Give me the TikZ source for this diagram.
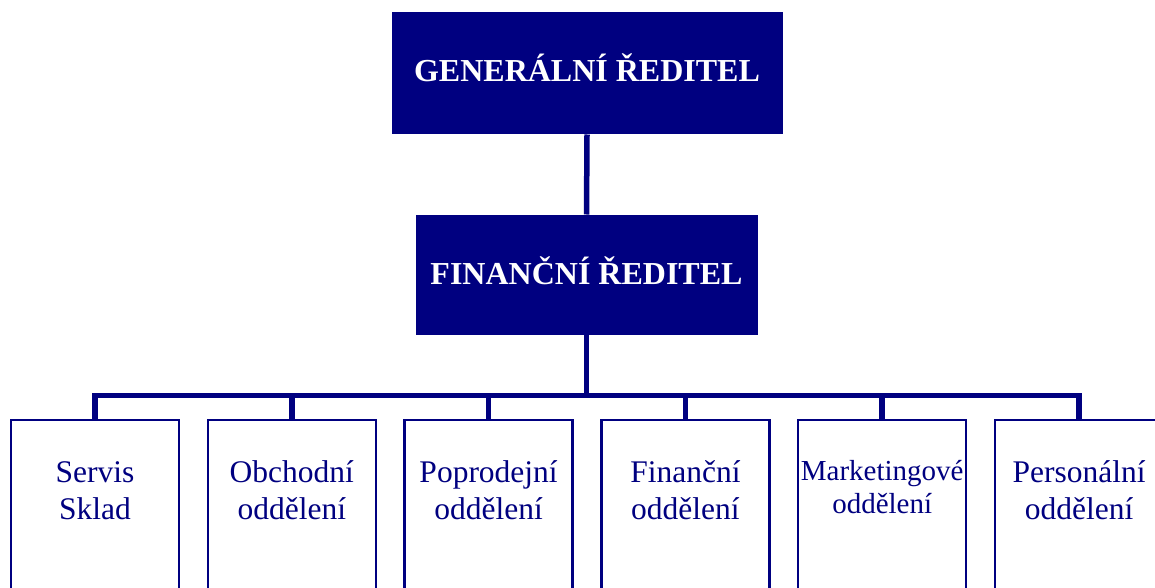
\documentclass[tikz,border=0pt]{standalone}
\usepackage{fontspec}
\setmainfont{Liberation Serif}
\definecolor{navy}{RGB}{0,0,128}
\begin{document}
\begin{tikzpicture}[x=1pt,y=-1pt,
  headbox/.style={fill=navy, draw=navy, line width=1pt, inner sep=0pt},
  headtext/.style={text=white, font=\fontsize{32}{38}\selectfont\bfseries, inner sep=0pt},
  deptbox/.style={draw=navy, line width=2.5pt, fill=white, inner sep=0pt,
    minimum width=168pt, minimum height=184pt},
  depttext/.style={text=navy, align=center, inner sep=0pt,
    font=\fontsize{31.5}{37}\selectfont},
  link/.style={draw=navy, line width=5.5pt, line join=miter}]
\useasboundingbox (0,0) rectangle (1155,588);
\clip (0,0) rectangle (1155,588);

% management boxes
\node[headbox, minimum width=390pt, minimum height=121pt] (gen) at (587,73.5) {};
\node[headtext, anchor=base] (gentext) at (587,82) {GENERÁLNÍ ŘEDITEL};
\node[headbox, minimum width=341pt, minimum height=119pt] (fin) at (586.5,274.5) {};
\node[headtext, anchor=base] (fintext) at (586.5,284) {FINANČNÍ ŘEDITEL};

% department boxes (running past the lower edge)
\node[deptbox] (d1) at (95,512) {};
\node[deptbox] (d2) at (291.8,512) {};
\node[deptbox] (d3) at (488.6,512) {};
\node[deptbox] (d4) at (685.4,512) {};
\node[deptbox] (d5) at (882.2,512) {};
\node[deptbox] (d6) at (1079,512) {};

% anchor=base sits on the last line of each label
\node[depttext, anchor=base] (t1) at (95,519) {Servis\\Sklad};
\node[depttext, anchor=base] (t2) at (291.8,519) {Obchodní\\oddělení};
\node[depttext, anchor=base] (t3) at (488.6,519) {Poprodejní\\oddělení};
\node[depttext, anchor=base] (t4) at (685.4,519) {Finanční\\oddělení};
\node[depttext, anchor=base, font=\fontsize{29}{33}\selectfont] (t5) at (882.2,513) {Marketingové\\oddělení};
\node[depttext, anchor=base] (t6) at (1079,519) {Personální\\oddělení};

% connectors
\coordinate (bus) at (586.5,395.5);
\draw[link] (gen.south) -- (fin.north);
\draw[link] (fin.south) -- (bus);
\draw[link] (d1.north) |- (bus) -| (d6.north);
\foreach \d in {d2,d3,d4,d5}
  \draw[link] (\d.north) -- (\d.north |- bus);
\end{tikzpicture}
\end{document}
